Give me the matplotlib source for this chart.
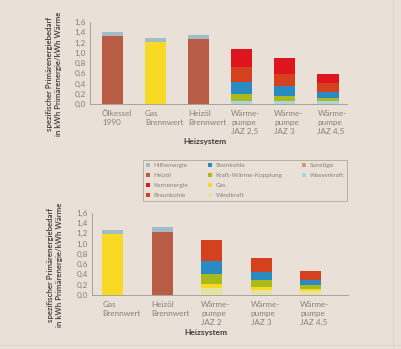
import numpy as np
import matplotlib
matplotlib.use("Agg")
import matplotlib.pyplot as plt
from matplotlib.patches import Patch
from matplotlib.lines import Line2D

plt.rcParams['font.family'] = ['Lato', 'DejaVu Sans']

# Colours
BG = "#e9e1d7"
COLORS = {
    "Hilfsenergie": "#a4bcc8",
    "Heizöl": "#b95c45",
    "Kernenergie": "#df151d",
    "Braunkohle": "#d4411f",
    "Steinkohle": "#2a8ac2",
    "Kraft-Wärme-Kopplung": "#a9bb1a",
    "Gas": "#f8d923",
    "Windkraft": "#e4e3a2",
    "Sonstige": "#c89b8d",
    "Wasserkraft": "#abd3e2",
}

# Top chart data
top_systems = ["Ölkessel\n1990", "Gas\nBrennwert", "Heizöl\nBrennwert",
               "Wärme-\npumpe\nJAZ 2,5", "Wärme-\npumpe\nJAZ 3", "Wärme-\npumpe\nJAZ 4,5"]
top_heizoel = [1.33, 0, 1.26, 0, 0, 0]
top_wasserkraft = [0, 0, 0, 0.065, 0.06, 0.06]
top_gas = [0, 1.20, 0, 0, 0, 0]
top_kwk = [0, 0, 0, 0.13, 0.10, 0.06]
top_steinkohle = [0, 0, 0, 0.24, 0.195, 0.12]
top_braunkohle = [0, 0, 0, 0.295, 0.235, 0.16]
top_kernenergie = [0, 0, 0, 0.35, 0.30, 0.185]
top_hilfsenergie = [0.08, 0.09, 0.09, 0, 0, 0]

# Bottom chart data
bot_systems = ["Gas\nBrennwert", "Heizöl\nBrennwert",
               "Wärme-\npumpe\nJAZ 2", "Wärme-\npumpe\nJAZ 3", "Wärme-\npumpe\nJAZ 4,5"]
bot_heizoel = [0, 1.23, 0, 0, 0]
bot_windkraft = [0, 0, 0.14, 0.09, 0.07]
bot_gas = [1.19, 0, 0.07, 0.06, 0.04]
bot_kwk = [0, 0, 0.20, 0.14, 0.08]
bot_steinkohle = [0, 0, 0.25, 0.16, 0.11]
bot_braunkohle = [0, 0, 0.40, 0.27, 0.175]
bot_hilfsenergie = [0.08, 0.08, 0, 0, 0]

y_ticks = [0, 0.2, 0.4, 0.6, 0.8, 1.0, 1.2, 1.4, 1.6]
y_tick_labels = ["0,0", "0,2", "0,4", "0,6", "0,8", "1,0", "1,2", "1,4", "1,6"]

legend_order = ["Hilfsenergie", "Heizöl", "Kernenergie", "Braunkohle",
                "Steinkohle", "Kraft-Wärme-Kopplung", "Gas", "Windkraft",
                "Sonstige", "Wasserkraft"]

TICK_COLOR = "#85817a"
LABEL_COLOR = "#3f3c39"
SPINE_COLOR = "#a9a39b"

fig = plt.figure(figsize=(4.01, 3.49), dpi=100, facecolor=BG)


def draw_chart(ax, systems, stacks, width, xlim):
    x = np.arange(len(systems))
    bottom = np.zeros(len(systems))
    for name, vals in stacks:
        vals = np.array(vals)
        ax.bar(x, vals, width, bottom=bottom, color=COLORS[name], linewidth=0)
        bottom += vals
    ax.set_facecolor(BG)
    ax.set_xlim(*xlim)
    ax.set_ylim(0, 1.6)
    ax.set_yticks(y_ticks)
    ax.set_yticklabels(y_tick_labels)
    ax.set_xticks(x - width / 2)
    ax.set_xticklabels(systems, ha="left", linespacing=1.35)
    ax.tick_params(axis="both", length=0, labelsize=5.9, colors=TICK_COLOR)
    ax.tick_params(axis="y", pad=3)
    ax.tick_params(axis="x", pad=4)
    for s in ["top", "right"]:
        ax.spines[s].set_visible(False)
    for s in ["left", "bottom"]:
        ax.spines[s].set_color(SPINE_COLOR)
        ax.spines[s].set_linewidth(0.7)


ax1 = fig.add_axes([0.2244, 0.702, 0.641, 0.235])
draw_chart(ax1, top_systems, [
    ("Heizöl", top_heizoel), ("Wasserkraft", top_wasserkraft), ("Gas", top_gas),
    ("Kraft-Wärme-Kopplung", top_kwk), ("Steinkohle", top_steinkohle),
    ("Braunkohle", top_braunkohle), ("Kernenergie", top_kernenergie),
    ("Hilfsenergie", top_hilfsenergie)], 0.49, (-0.52, 5.44))

ax2 = fig.add_axes([0.2294, 0.1547, 0.638, 0.2364])
draw_chart(ax2, bot_systems, [
    ("Heizöl", bot_heizoel), ("Windkraft", bot_windkraft), ("Gas", bot_gas),
    ("Kraft-Wärme-Kopplung", bot_kwk), ("Steinkohle", bot_steinkohle),
    ("Braunkohle", bot_braunkohle), ("Hilfsenergie", bot_hilfsenergie)],
    0.43, (-0.42, 4.75))

ylabel = "spezifischer Primärenergiebedarf\nin kWh Primärenergie/kWh Wärme"
fig.text(0.135, 0.788, ylabel, rotation=90, ha="center", va="center",
         fontsize=5.7, color=LABEL_COLOR, linespacing=1.3, fontweight="semibold")
fig.text(0.137, 0.241, ylabel, rotation=90, ha="center", va="center",
         fontsize=5.7, color=LABEL_COLOR, linespacing=1.3, fontweight="semibold")
fig.text(0.511, 0.594, "Heizsystem", ha="center", va="center",
         fontsize=6, fontweight="bold", color=LABEL_COLOR)
fig.text(0.513, 0.046, "Heizsystem", ha="center", va="center",
         fontsize=6, fontweight="bold", color=LABEL_COLOR)

handles = [Patch(facecolor=COLORS[n], edgecolor="none", label=n) for n in legend_order]
# two empty slots so the columns split 4 / 4 / 2
handles += [Patch(facecolor="none", edgecolor="none", label=" ") for _ in range(2)]
leg = fig.legend(handles=handles, ncol=3, mode="expand",
                 bbox_to_anchor=(0.3566, 0.427, 0.5084, 0.112), loc="center",
                 fontsize=4.6, frameon=True, fancybox=False,
                 handlelength=0.55, handleheight=0.55, handletextpad=0.6,
                 labelspacing=0.75, borderpad=0.5, borderaxespad=0,
                 labelcolor=TICK_COLOR)
leg.get_frame().set_facecolor(BG)
leg.get_frame().set_edgecolor(SPINE_COLOR)
leg.get_frame().set_linewidth(0.7)

# faint page edges
fig.add_artist(Line2D([393 / 401, 393 / 401], [0, 1], color="#ddd5cb", lw=0.8))
fig.add_artist(Line2D([0, 1], [4 / 349, 4 / 349], color="#ddd5cb", lw=0.8))

fig.savefig("out.png", dpi=100, facecolor=BG)
